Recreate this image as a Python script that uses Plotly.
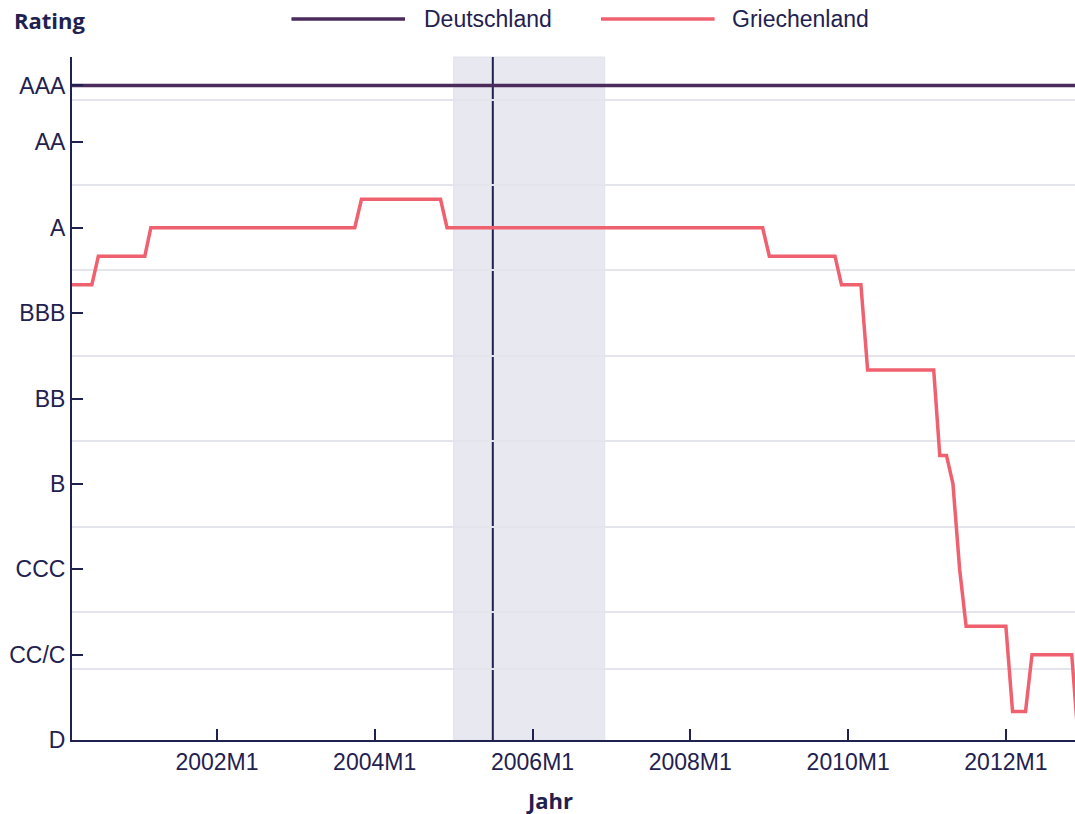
import plotly.graph_objects as go

# ---- data ----
rating_labels = ["D", "CC/C", "CCC", "B", "BB", "BBB", "A", "AA", "AAA"]
rating_values = [0, 3, 6, 9, 12, 15, 18, 21, 23]
grid_values = [2.5, 4.5, 7.5, 10.5, 13.5, 16.5, 19.5, 22.5]

de_dates = ["2000-03-01", "2012-12-01"]
de_rating = [23, 23]

gr_dates = ["2000-03-01", "2000-06-01", "2000-07-01", "2001-02-01", "2001-03-01",
            "2003-10-01", "2003-11-01", "2004-11-01", "2004-12-01", "2008-12-01",
            "2009-01-01", "2009-11-01", "2009-12-01", "2010-03-01", "2010-04-01",
            "2011-02-01", "2011-03-01", "2011-04-01", "2011-05-01", "2011-06-01",
            "2011-07-01", "2012-01-01", "2012-02-01", "2012-04-01", "2012-05-01",
            "2012-11-01", "2012-12-01"]
gr_rating = [16, 16, 17, 17, 18,
             18, 19, 19, 18, 18,
             17, 17, 16, 16, 13,
             13, 10, 10, 9, 6,
             4, 4, 1, 1, 3,
             3, 0]

x_tickvals = ["2002-01-01", "2004-01-01", "2006-01-01", "2008-01-01", "2010-01-01", "2012-01-01"]
x_ticktext = ["2002M1", "2004M1", "2006M1", "2008M1", "2010M1", "2012M1"]

series_names = ["Deutschland", "Griechenland"]
shade_start, shade_end = "2005-01-01", "2006-12-01"
event_date = "2005-07-01"

# ---- style ----
NAVY = "#1f2150"
C_DE = "#4b2a5c"
C_GR = "#f0616f"
GRID = "#e4e4ec"
TICKFONT = dict(family="Liberation Sans, Arial, sans-serif", size=23, color=NAVY)
TITLEFONT = dict(family="Open Sans, sans-serif", size=22, color=NAVY, weight="bold")

fig = go.Figure()
fig.add_trace(go.Scatter(x=de_dates, y=de_rating, mode="lines", name=series_names[0],
                         line=dict(color=C_DE, width=3.5), showlegend=False))
fig.add_trace(go.Scatter(x=gr_dates, y=gr_rating, mode="lines", name=series_names[1],
                         line=dict(color=C_GR, width=3.5), showlegend=False))

fig.add_shape(type="rect", xref="x", yref="paper", x0=shade_start, x1=shade_end, y0=0, y1=1,
              fillcolor="#e8e8f0", line=dict(color="#e2e2ea", width=1), layer="below")
fig.add_shape(type="line", xref="x", yref="paper", x0=event_date, x1=event_date, y0=0, y1=1,
              line=dict(color=NAVY, width=2), layer="below")

# manual legend (long line samples)
leg = [(0.2188, 0.332, 0.349, C_DE), (0.5274, 0.6407, 0.656, C_GR)]
for name, (lx0, lx1, tx, col) in zip(series_names, leg):
    fig.add_shape(type="line", xref="paper", yref="paper", x0=lx0, x1=lx1, y0=1.0556, y1=1.0556,
                  line=dict(color=col, width=3.5))
    fig.add_annotation(xref="paper", yref="paper", x=tx, y=1.0556, text=name, showarrow=False,
                       xanchor="left", yanchor="middle", font=TICKFONT)

fig.add_annotation(xref="paper", yref="paper", x=-0.0598, y=1.054, text="Rating", showarrow=False,
                   xanchor="left", yanchor="middle", font=TITLEFONT)
fig.add_annotation(xref="paper", yref="paper", x=0.4756, y=-0.0878, text="Jahr", showarrow=False,
                   xanchor="center", yanchor="middle", font=TITLEFONT)

fig.update_layout(
    width=1075, height=814,
    margin=dict(l=72, r=0, t=57, b=74),
    plot_bgcolor="white", paper_bgcolor="white",
    showlegend=False,
    xaxis=dict(type="date", range=["2000-03-01", "2012-11-16"],
               tickvals=x_tickvals, ticktext=x_ticktext,
               ticks="inside", ticklen=11, tickwidth=2, tickcolor=NAVY,
               showline=True, linecolor=NAVY, linewidth=2,
               showgrid=False, zeroline=False, tickfont=TICKFONT),
    yaxis=dict(range=[0, 24], tickvals=rating_values, ticktext=rating_labels,
               ticks="inside", ticklen=11, tickwidth=2, tickcolor=NAVY,
               showline=True, linecolor=NAVY, linewidth=2,
               showgrid=False, zeroline=False, tickfont=TICKFONT,
               minor=dict(tickmode="array", tickvals=grid_values, showgrid=True,
                          gridcolor=GRID, gridwidth=2, ticks="")),
)

fig.write_html("out.html", config={"displayModeBar": False},
               post_script="document.body.style.margin='0';document.body.style.overflow='hidden';")
